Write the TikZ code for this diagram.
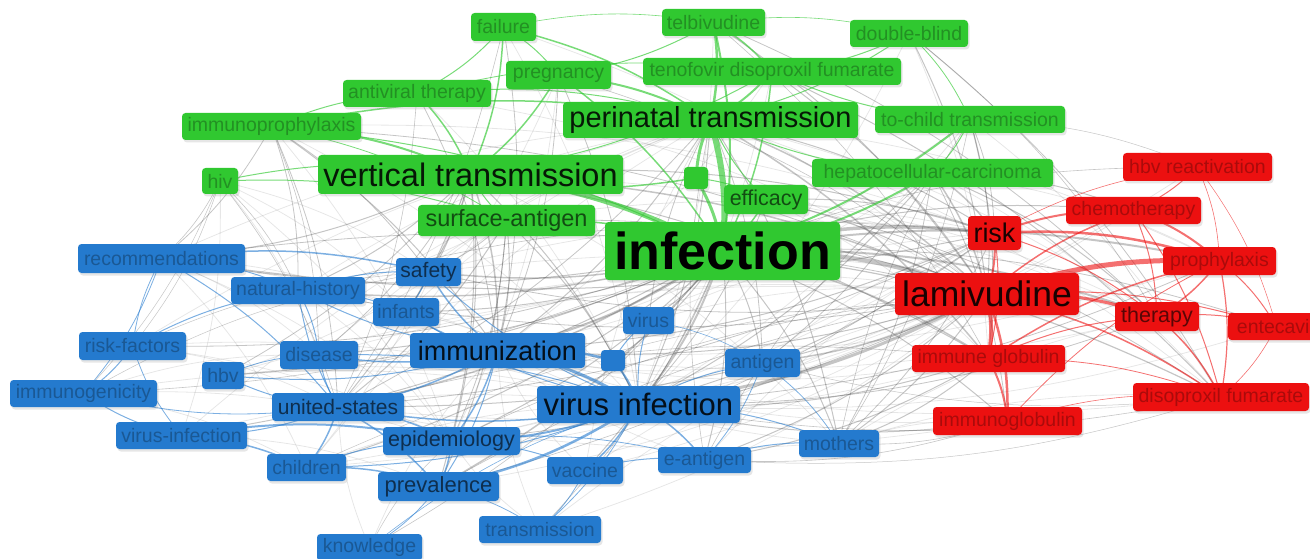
\documentclass[tikz,border=0pt]{standalone}
\usepackage{fontspec}
\setmainfont{Liberation Sans}
\usetikzlibrary{backgrounds,shadows}
\definecolor{cg}{RGB}{48,200,48}
\definecolor{cb}{RGB}{36,122,206}
\definecolor{cr}{RGB}{236,16,16}
\tikzset{
  kw/.style={rounded corners=3.5pt, inner sep=0pt,
    drop shadow={opacity=0.2,shadow xshift=1.5pt,shadow yshift=-2.5pt}},
  gn/.style={kw, fill=cg},
  bn/.style={kw, fill=cb},
  rn/.style={kw, fill=cr},
  fs/.style={font=\fontsize{#1}{#1}\selectfont},
  bx/.style 2 args={minimum width=#1, minimum height=#2},
  tg/.style={text=cg!72!black}, tgm/.style={text=cg!38!black}, tgl/.style={text=cg!12!black},
  tb/.style={text=cb!72!black}, tbm/.style={text=cb!38!black}, tbl/.style={text=cb!12!black},
  tr/.style={text=cr!72!black}, trm/.style={text=cr!38!black}, trl/.style={text=cr!10!black},
  ke/.style={draw=black!70, opacity=0.32},
  kf/.style={draw=black!60, opacity=0.16, line width=0.8pt},
  ge/.style={draw=cg, opacity=0.65},
  be/.style={draw=cb, opacity=0.6},
  re/.style={draw=cr, opacity=0.6},
}
\begin{document}
\begin{tikzpicture}[x=1pt,y=-1pt]
\useasboundingbox (0,0) rectangle (1310,559);
% ---------- green cluster
\node[gn,bx={65}{28},fs=19.5,tg] (fail) at (503.5,27) {failure};
\node[gn,bx={103}{27},fs=19.5,tg] (telb) at (713.5,22.5) {telbivudine};
\node[gn,bx={118}{27},fs=19.5,tg] (dblind) at (909,33.5) {double-blind};
\node[gn,bx={105}{28},fs=19.5,tg] (preg) at (558.5,75) {pregnancy};
\node[gn,bx={258}{27},fs=19.5,tg] (teno) at (772,71.5) {tenofovir disoproxil fumarate};
\node[gn,bx={148}{27},fs=19.5,tg] (antiv) at (417,93.5) {antiviral therapy};
\node[gn,bx={179}{27},fs=19.5,tg] (improph) at (271.5,126.5) {immunoprophylaxis};
\node[gn,bx={295}{36},fs=29,tgl] (peri) at (710.5,120) {perinatal transmission};
\node[gn,bx={190}{27},fs=19.5,tg] (tochild) at (970,119.5) {to-child transmission};
\node[gn,bx={305}{39},fs=32.5,tgl] (vert) at (470.5,174.5) {vertical transmission};
\node[gn,bx={36}{26},fs=19.5,tg] (hiv) at (220,181) {hiv};
\node[gn,bx={24}{22}] (gsq) at (696,178) {};
\node[gn,bx={241}{28},fs=19.5,tg] (hcc) at (932.5,173) {hepatocellular-carcinoma};
\node[gn,bx={84}{29},fs=21.5,tgm] (effic) at (766,199.5) {efficacy};
\node[gn,bx={177}{31},fs=23.5,tgm] (surf) at (506.5,220.5) {surface-antigen};
\node[gn,bx={235}{58},fs=52,font=\fontsize{52}{52}\selectfont\bfseries,text=black] (inf) at (722.5,251) {infection};
% ---------- red cluster
\node[rn,bx={149}{28},fs=19.5,tr] (hbvr) at (1197.5,167) {hbv reactivation};
\node[rn,bx={135}{27},fs=19.5,tr] (chemo) at (1133.5,210.5) {chemotherapy};
\node[rn,bx={53}{34},fs=27,trl] (risk) at (994.5,233) {risk};
\node[rn,bx={113}{28},fs=19.5,tr] (proph) at (1219.5,261) {prophylaxis};
\node[rn,bx={184}{42},fs=35.5,trl] (lami) at (987,294) {lamivudine};
\node[rn,bx={84}{29},fs=21.5,trm] (ther) at (1157,316.5) {therapy};
\node[rn,bx={97}{27},fs=19.5,tr] (ente) at (1276.5,326.5) {entecavir};
\node[rn,bx={153}{27},fs=19.5,tr] (immg) at (988.5,358.5) {immune globulin};
\node[rn,bx={176}{28},fs=19.5,tr] (disf) at (1221,397) {disoproxil fumarate};
\node[rn,bx={149}{28},fs=19.5,tr] (immgl) at (1007.5,421) {immunoglobulin};
% ---------- blue cluster
\node[bn,bx={167}{29},fs=19.5,tb] (recom) at (161.5,258.5) {recommendations};
\node[bn,bx={65}{28},fs=21,tbm] (safety) at (428.5,272) {safety};
\node[bn,bx={134}{27},fs=19.5,tb] (nathist) at (298,290.5) {natural-history};
\node[bn,bx={66}{28},fs=19.5,tb] (infants) at (406,312) {infants};
\node[bn,bx={107}{28},fs=19.5,tb] (riskf) at (132.5,346) {risk-factors};
\node[bn,bx={78}{28},fs=19.5,tb] (disease) at (319,355) {disease};
\node[bn,bx={175}{35},fs=27,tbl] (immun) at (497.5,350.5) {immunization};
\node[bn,bx={51}{27},fs=19.5,tb] (virus) at (648.5,320.5) {virus};
\node[bn,bx={24}{21}] (bsq) at (613,360.5) {};
\node[bn,bx={42}{27},fs=19.5,tb] (hbv) at (223,375.5) {hbv};
\node[bn,bx={75}{28},fs=19.5,tb] (antigen) at (762.5,363) {antigen};
\node[bn,bx={147}{27},fs=19.5,tb] (immgen) at (83.5,393.5) {immunogenicity};
\node[bn,bx={132}{28},fs=21,tbm] (us) at (338,407) {united-states};
\node[bn,bx={203}{37},fs=31,tbl] (vinf) at (638.5,404.5) {virus infection};
\node[bn,bx={131}{27},fs=19.5,tb] (vinf2) at (181.5,435.5) {virus-infection};
\node[bn,bx={137}{28},fs=21.5,tbm] (epid) at (451.5,441) {epidemiology};
\node[bn,bx={79}{27},fs=19.5,tb] (child) at (306.5,467.5) {children};
\node[bn,bx={76}{27},fs=19.5,tb] (vacc) at (585,470.5) {vaccine};
\node[bn,bx={93}{26},fs=19.5,tb] (eant) at (704.5,460) {e-antigen};
\node[bn,bx={80}{27},fs=19.5,tb] (moth) at (839,443.5) {mothers};
\node[bn,bx={121}{29},fs=22,tbm] (prev) at (438.5,486.5) {prevalence};
\node[bn,bx={122}{27},fs=19.5,tb] (trans) at (540,529.5) {transmission};
\node[bn,bx={105}{27},fs=19.5,tb] (know) at (369.5,547.5) {knowledge};
% ---------- connectors
\begin{pgfonlayer}{background}
\foreach \a/\b in {hiv/infants, hiv/disease, hiv/safety, hiv/epid, hiv/vinf2, recom/peri, recom/vinf, recom/infants, recom/disease, recom/epid, recom/child, riskf/us, riskf/vinf, riskf/epid, riskf/peri, immgen/epid, immgen/vinf, immgen/child, immgen/disease, vinf2/vinf, vinf2/prev, vinf2/peri, nathist/peri, nathist/vinf, nathist/epid, disease/peri, disease/lami, hbv/vinf, hbv/lami, infants/peri, infants/lami, safety/peri, safety/risk, safety/ther, child/vinf, child/peri, know/us, know/immun, trans/epid, trans/immun, trans/lami, vacc/lami, vacc/peri, vacc/immun, eant/risk, eant/immun, moth/immun, moth/ther, moth/disf, moth/immgl, antigen/risk, antigen/immun, virus/lami, virus/risk, fail/lami, fail/vinf, antiv/lami, antiv/vinf, preg/us, preg/epid, teno/vinf, teno/immun, telb/vinf, dblind/immg, dblind/vinf, tochild/vinf, tochild/immun, tochild/disf, hcc/immun, hcc/disf, hcc/proph, effic/ther, effic/immg, surf/risk, surf/hbv, surf/nathist, improph/vinf, improph/epid, improph/risk, peri/ther, peri/disf, peri/proph, vert/ther, vert/moth, vert/child, risk/epid, risk/child, lami/child, lami/prev, lami/vacc, lami/trans, immg/us, immg/immun, immgl/immun, immgl/us, disf/immun, ther/immun, proph/immun, chemo/vinf, hbvr/vinf, ente/vinf}
  {\draw[kf] (\a.center) to[bend left=10] (\b.center);}
\foreach \a/\b/\w in {inf/lami/4.5, inf/risk/3.5, inf/ther/2, inf/proph/2, inf/immg/1.5, inf/immgl/1, inf/disf/1.2, inf/chemo/1, inf/hbvr/0.6, inf/ente/0.8, inf/immun/2, inf/vinf/2, inf/antigen/1, inf/moth/1, inf/eant/1, inf/virus/1, inf/safety/1.5, inf/us/1.5, inf/epid/1, inf/prev/1.5, inf/child/1, inf/vinf2/1, inf/recom/1, inf/nathist/1.5, inf/infants/1, inf/disease/1, inf/hbv/1, inf/riskf/0.8, inf/immgen/0.6, inf/vacc/1, inf/trans/0.6, inf/know/0.6, inf/bsq/1,
 vert/immun/1.5, vert/recom/1, vert/nathist/1, vert/us/1, vert/safety/1, vert/infants/1, vert/vinf/1, vert/epid/1, vert/prev/1, vert/lami/1.5, vert/risk/1, vert/immg/1, vert/hbv/0.8, vert/disease/0.8,
 peri/lami/1.5, peri/immg/1.5, peri/risk/1, peri/immun/1, peri/vinf/1, peri/moth/1, peri/antigen/0.8, peri/us/0.8,
 improph/recom/0.8, improph/us/0.8, improph/safety/0.8, improph/immun/1, improph/lami/0.8, improph/nathist/0.8, improph/disease/0.6,
 hiv/recom/0.6, hiv/nathist/0.6, hiv/us/0.6, hiv/immgen/0.5, hiv/riskf/0.5,
 surf/immun/1, surf/vinf/1, surf/us/1, surf/prev/1, surf/lami/0.8, surf/safety/0.8, surf/epid/0.8,
 hcc/lami/1.5, hcc/risk/1.5, hcc/chemo/1, hcc/vinf/1, hcc/ther/1, hcc/immgl/0.8, hcc/moth/0.8, hcc/antigen/0.8,
 tochild/lami/1, tochild/immg/1, tochild/risk/0.8, tochild/hbvr/0.5, tochild/moth/0.6,
 teno/lami/1, teno/disf/1, telb/lami/1, telb/ther/0.8, dblind/lami/1, dblind/disf/0.8, dblind/ther/0.6,
 effic/lami/1, effic/risk/1, effic/disf/0.8, effic/vinf/0.8,
 lami/vinf/3, lami/moth/1, lami/antigen/1.5, lami/immun/1, lami/us/1, lami/eant/1, lami/safety/0.8, lami/nathist/0.8, lami/epid/0.8,
 risk/vinf/1, risk/us/0.8, risk/immun/1, risk/recom/1, risk/moth/0.8, risk/prev/0.6,
 immg/vinf/1, immg/moth/1, immg/eant/1, immgl/moth/0.6, immgl/vinf/1, immgl/eant/0.6,
 ther/vinf/0.8, proph/vinf/0.8, disf/eant/0.5, disf/antigen/0.5, disf/vinf/0.6,
 moth/tochild/0.6, virus/peri/0.8, eant/peri/0.6, eant/hcc/0.6,
 fail/immun/0.8, fail/us/0.6, antiv/immun/0.8, antiv/us/0.6, preg/immun/0.8, preg/vinf/0.8, preg/lami/0.6, telb/immg/0.6,
 recom/lami/0.8, nathist/risk/0.6, us/immg/0.6, epid/lami/0.6, prev/lami/0.6, child/lami/0.5, immgen/safety/0.5, riskf/safety/0.5, know/epid/0.5}
  {\draw[ke,line width=\w] (\a.center) to[bend left=10] (\b.center);}
\foreach \a/\b/\w in {peri/inf/6, vert/inf/5, gsq/peri/3, gsq/inf/3, telb/peri/2.5, telb/inf/2, teno/peri/2, teno/inf/1.5, preg/peri/2, preg/vert/1.5, preg/inf/1.5, fail/vert/1.5, fail/peri/1.5, fail/preg/1, fail/antiv/1, antiv/vert/1.5, antiv/peri/1, improph/peri/1.5, improph/vert/2, improph/inf/1, hiv/vert/1, hiv/surf/1, tochild/inf/2, tochild/hcc/1, tochild/teno/1, hcc/inf/2, hcc/peri/1, effic/inf/1.5, effic/peri/1, surf/inf/1.5, surf/vert/1, gsq/vert/1.5, gsq/effic/1, dblind/teno/1, dblind/tochild/0.8, dblind/peri/1, telb/teno/1.5, fail/telb/0.6, telb/dblind/0.6, teno/vert/1, improph/antiv/1, improph/surf/0.8, antiv/teno/0.8, telb/preg/1}
  {\draw[ge,line width=\w] (\a.center) to[bend left=10] (\b.center);}
\foreach \a/\b/\w in {lami/proph/5, lami/ther/3, lami/immg/4, lami/immgl/2.5, risk/proph/2.5, risk/chemo/2, risk/lami/2, risk/ther/1, lami/chemo/1.5, hbvr/chemo/1, hbvr/proph/0.6, chemo/proph/2, chemo/ther/1, proph/ther/1.5, proph/ente/1, proph/disf/1.2, ther/disf/1.5, ther/ente/1, lami/disf/1.5, immg/immgl/2, immg/proph/1.5, immg/ther/1, lami/ente/1, risk/immg/1, chemo/disf/1, ente/disf/0.6, immg/disf/0.8, immgl/disf/0.6, hbvr/ente/0.5, risk/hbvr/0.6, immgl/proph/0.8}
  {\draw[re,line width=\w] (\a.center) to[bend left=10] (\b.center);}
\foreach \a/\b/\w in {immun/vinf/3, immun/bsq/2.5, bsq/vinf/2, bsq/virus/1, immun/safety/1.5, immun/infants/1.5, immun/us/1.5, immun/disease/1.5, immun/hbv/1, immun/epid/1.5, immun/prev/1, immun/nathist/1, vinf/epid/2, vinf/prev/2.5, vinf/vacc/1.5, vinf/eant/1.5, vinf/antigen/1, vinf/moth/1, vinf/virus/1, vinf/us/1.5, vinf/safety/1, vinf/infants/1, vinf/child/1, vinf/trans/0.8, us/epid/1.5, us/prev/1.5, us/child/1.5, us/disease/1, us/hbv/1, us/nathist/1, us/vinf2/1, us/immgen/0.8, vinf2/epid/2, vinf2/child/1.5, vinf2/immgen/1, vinf2/riskf/0.8, riskf/immgen/1, riskf/nathist/1, riskf/recom/0.8, recom/safety/1.5, recom/nathist/1, recom/immgen/0.8, recom/us/1, nathist/infants/1, nathist/disease/1, nathist/safety/1, child/prev/1.5, epid/prev/1.5, child/epid/1, prev/know/0.8, prev/trans/0.8, vacc/trans/0.8, vacc/eant/1, epid/vacc/1, eant/moth/1, antigen/moth/0.8, antigen/eant/0.8, epid/eant/0.8, safety/infants/1, hbv/disease/0.8, disease/vinf/1, know/vinf/0.6, virus/antigen/0.6}
  {\draw[be,line width=\w] (\a.center) to[bend left=10] (\b.center);}
\end{pgfonlayer}
\end{tikzpicture}
\end{document}
